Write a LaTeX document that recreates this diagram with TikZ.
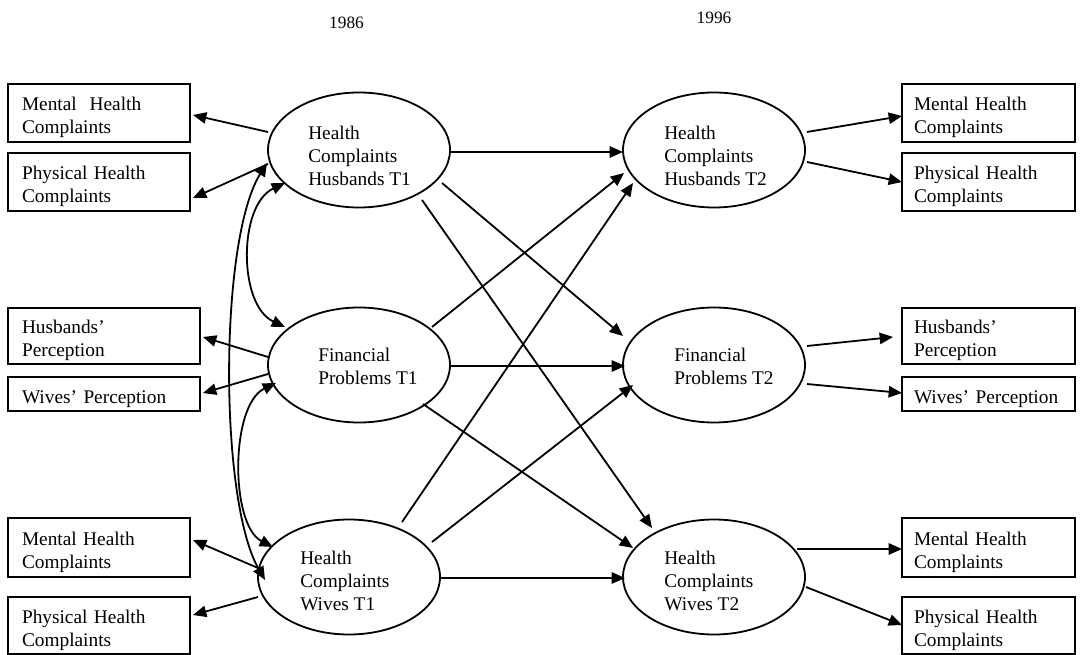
\documentclass[tikz,border=0pt]{standalone}
\usepackage{fontspec}
\setmainfont{Liberation Serif}
\usetikzlibrary{arrows.meta,calc,shapes.geometric}
\begin{document}
\begin{tikzpicture}[x=0.75pt,y=-0.75pt,
  every node/.style={font=\fontsize{14.5pt}{17.3pt}\selectfont},
  lv/.style={draw,ellipse,line width=1.35pt,minimum width=136.5pt,minimum height=86.25pt,inner sep=0pt},
  txt/.style={anchor=west,align=left,inner sep=0pt},
  boxl/.style={draw,line width=1.35pt,align=left,inner xsep=10.5pt,inner ysep=0pt,text width=115.5pt,
    execute at begin node={\rule{0pt}{17pt}}},
  boxlw/.style={boxl,text width=123pt},
  boxr/.style={draw,line width=1.35pt,align=left,inner xsep=9pt,inner ysep=0pt,text width=111.75pt,
    execute at begin node={\rule{0pt}{17pt}}},
  year/.style={font=\fontsize{13pt}{15pt}\selectfont,inner sep=0pt},
  tip/.tip={Triangle[length=10pt,width=8.5pt]},
  arr/.style={line width=1.35pt,-tip},
  dbl/.style={line width=1.35pt,tip-tip}]
\useasboundingbox (0,0) rectangle (1080,655);

% years
\node[year] (y1) at (346.5,22.5) {1986};
\node[year] (y2) at (714,17.5) {1996};

% left boxes
\node[boxl,minimum height=43.5pt] (lm1) at (99,113) {Mental\ \ Health\\Complaints};
\node[boxl,minimum height=43.5pt] (lp1) at (99,182) {Physical Health\\Complaints};
\node[boxlw,minimum height=42pt] (lhp) at (104,336) {Husbands’\\Perception};
\node[boxlw,minimum height=25.5pt,execute at begin node={\rule{0pt}{13pt}}] (lwp) at (104,394) {Wives’ Perception};
\node[boxl,minimum height=44.25pt] (lm2) at (99,547.5) {Mental Health\\Complaints};
\node[boxl,minimum height=42.75pt] (lp2) at (99,625.5) {Physical Health\\Complaints};

% right boxes
\node[boxr,minimum height=43.5pt] (rm1) at (988.5,113) {Mental Health\\Complaints};
\node[boxr,minimum height=43.5pt] (rp1) at (988.5,182) {Physical Health\\Complaints};
\node[boxr,minimum height=42pt] (rhp) at (988.5,336) {Husbands’\\Perception};
\node[boxr,minimum height=25.5pt,execute at begin node={\rule{0pt}{13pt}}] (rwp) at (988.5,394) {Wives’ Perception};
\node[boxr,minimum height=44.25pt] (rm2) at (988.5,547.5) {Mental Health\\Complaints};
\node[boxr,minimum height=42.75pt] (rp2) at (988.5,625.5) {Physical Health\\Complaints};

% latent variables
\node[lv] (h1) at (359,150) {};
\node[lv] (f1) at (359,365) {};
\node[lv] (w1) at (349,577) {};
\node[lv] (h2) at (714,150) {};
\node[lv] (f2) at (714,365) {};
\node[lv] (w2) at (714,577) {};

\node[txt] (th1) at ($(h1)+(-51,5.5)$) {Health\\Complaints\\Husbands T1};
\node[txt] (tf1) at ($(f1)+(-41,1.5)$) {Financial\\Problems T1};
\node[txt] (tw1) at ($(w1)+(-49,4)$) {Health\\Complaints\\Wives T1};
\node[txt] (th2) at ($(h2)+(-50,5.5)$) {Health\\Complaints\\Husbands T2};
\node[txt] (tf2) at ($(f2)+(-40,1.5)$) {Financial\\Problems T2};
\node[txt] (tw2) at ($(w2)+(-50,4)$) {Health\\Complaints\\Wives T2};

% measurement arrows left
\draw[arr] ($(h1)+(-91,-18)$) -- ($(lm1)+(94,2)$);
\draw[arr] ($(h1)+(-91,14)$) -- ($(lp1)+(94,16)$);
\draw[arr] ($(f1)+(-91,-8)$) -- ($(lhp)+(99,1)$);
\draw[arr] ($(f1)+(-91,9)$) -- ($(lwp)+(99,-1)$);
\draw[arr] ($(w1)+(-91,-9)$) -- ($(lm2)+(94,-7.5)$);
\draw[arr] ($(w1)+(-91,20)$) -- ($(lp2)+(94,-10.5)$);

% measurement arrows right
\draw[arr] ($(h2)+(93,-18)$) -- ($(rm1)+(-86.5,3)$);
\draw[arr] ($(h2)+(93,12)$) -- ($(rp1)+(-86.5,0)$);
\draw[arr] ($(f2)+(93,-19)$) -- ($(rhp)+(-95.5,1)$);
\draw[arr] ($(f2)+(93,19)$) -- ($(rwp)+(-86.5,-1)$);
\draw[arr] ($(w2)+(83,-28)$) -- ($(rm2)+(-86.5,1.5)$);
\draw[arr] ($(w2)+(92,10)$) -- ($(rp2)+(-86.5,-0.5)$);

% structural paths
\draw[arr] ($(h1)+(91,2)$) -- ($(h2)+(-91,2)$);
\draw[arr] ($(h1)+(83,33)$) -- ($(f2)+(-91,-29)$);
\draw[arr] ($(h1)+(63,50)$) -- ($(w2)+(-62,-49)$);
\draw[arr] ($(f1)+(73,-38)$) -- ($(h2)+(-90,23)$);
\draw[arr] ($(w1)+(53,-55)$) -- ($(h2)+(-81,33)$);
\draw[arr] ($(f1)+(91,1)$) -- ($(f2)+(-89,1)$);
\draw[arr] ($(f1)+(64,39)$) -- ($(w2)+(-81,-29)$);
\draw[arr] ($(w1)+(83,-35)$) -- ($(f2)+(-81,20)$);
\draw[arr] ($(w1)+(92,1)$) -- ($(w2)+(-89,1)$);

% correlations
\draw[dbl] ($(h1)+(-74,33)$) .. controls ($(h1)+(-121,55)$) and ($(f1)+(-121,-60)$) .. ($(f1)+(-74,-38)$);
\draw[dbl] ($(f1)+(-83,18)$) .. controls ($(f1)+(-129,40)$) and ($(w1)+(-119,-52)$) .. ($(w1)+(-76,-30)$);
\draw[dbl] ($(h1)+(-92,13)$) .. controls ($(h1)+(-140,90)$) and ($(w1)+(-130,-77)$) .. ($(w1)+(-84,3)$);
\end{tikzpicture}
\end{document}
